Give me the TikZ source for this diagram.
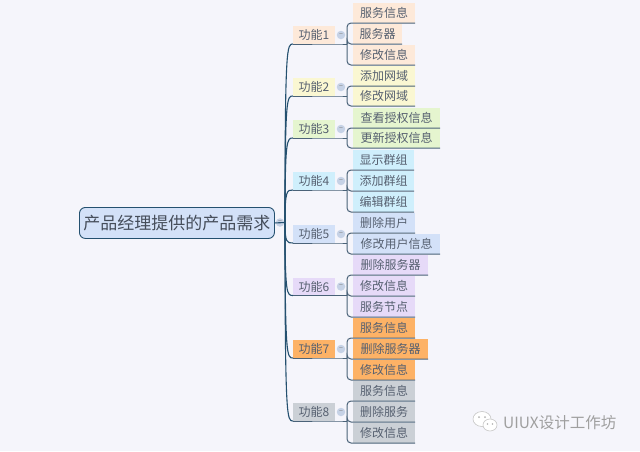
\documentclass[tikz,border=0pt]{standalone}
\usepackage{fontspec}
\setmainfont{Noto Sans CJK SC}
\newfontfamily\wmfont{Noto Sans CJK SC}
\usetikzlibrary{calc}
\definecolor{bgc}{HTML}{F5F5FB}
\definecolor{txt}{HTML}{566070}
\definecolor{trunkc}{HTML}{24506F}
\definecolor{branchc}{HTML}{4A6278}
\definecolor{ca}{HTML}{FDE9D9}
\definecolor{cb}{HTML}{FAF7D2}
\definecolor{cc}{HTML}{E5F5CF}
\definecolor{cd}{HTML}{CFEFFC}
\definecolor{ce}{HTML}{D3E1F8}
\definecolor{cf}{HTML}{E6DAF8}
\definecolor{cg}{HTML}{FDB266}
\definecolor{ch}{HTML}{CBD0D6}
\tikzset{
  base/.style={anchor=north west,inner sep=0pt,outer sep=0pt,text=txt,font=\fontsize{12}{14}\selectfont},
  leafbox/.style={base,minimum height=20pt},
  funcbox/.style={base,minimum width=42pt,minimum height=18pt},
  rootbox/.style={draw=trunkc,line width=0.9pt,rounded corners=6pt,fill=ce,anchor=north west,inner sep=0pt,minimum width=195pt,minimum height=31pt,text=txt!80!black,font=\fontsize{17}{20}\selectfont},
  toggle/.style={circle,fill=ce!85!gray,inner sep=0pt,minimum size=8.5pt,text=gray,font=\fontsize{7}{7}\selectfont},
  trunkline/.style={draw=trunkc,line width=1.1pt},
  branchline/.style={draw=branchc,line width=1pt,rounded corners=4pt},
  bub/.style={draw=gray!45,fill=white,line width=0.6pt}
}
\newcommand{\leafnode}[5]{\node[leafbox,fill=#2,minimum width=#4pt] (#1) at (353,#3) {\raisebox{-1pt}{#5}};}
\newcommand{\funcnode}[4]{%
  \node[funcbox,fill=#2] (#1) at (293,#3) {#4};
  \node[toggle] (#1t) at (341,#3+9) {−};
  \coordinate (#1b) at (347,#3+18);
  \draw[trunkline] (hub) .. controls (hub|-#1.south west) and ($(#1.south west)+(-6,0)$) .. (#1.south west);
  \draw[branchline] (#1.south west) -- (#1.south east) -- (#1b);}
\newcommand{\lk}[2]{\draw[branchline] (#1b) |- (#2.south east);}
\begin{document}
\begin{tikzpicture}[x=1pt,y=-1pt]
\useasboundingbox (0,0) rectangle (640,451);
\fill[bgc] (0,0) rectangle (640,451);
\node[rootbox] (root) at (79,207) {产品经理提供的产品需求};
\node[toggle] (roott) at (280,222.5) {−};
\coordinate (hub) at (285,222.5);
\draw[trunkline] (root.east) -- (hub);
% leaves
\leafnode{a1}{ca}{3}{62}{服务信息}
\leafnode{a2}{ca}{24}{49}{服务器}
\leafnode{a3}{ca}{45}{62}{修改信息}
\leafnode{b1}{cb}{66}{62}{添加网域}
\leafnode{b2}{cb}{86}{62}{修改网域}
\leafnode{c1}{cc}{108}{87}{查看授权信息}
\leafnode{c2}{cc}{128}{87}{更新授权信息}
\leafnode{d1}{cd}{150}{61}{显示群组}
\leafnode{d2}{cd}{171}{61}{添加群组}
\leafnode{d3}{cd}{192}{61}{编辑群组}
\leafnode{e1}{ce}{213}{62}{删除用户}
\leafnode{e2}{ce}{234}{87}{修改用户信息}
\leafnode{f1}{cf}{255}{75}{删除服务器}
\leafnode{f2}{cf}{276}{62}{修改信息}
\leafnode{f3}{cf}{297}{62}{服务节点}
\leafnode{g1}{cg}{318}{62}{服务信息}
\leafnode{g2}{cg}{339}{75}{删除服务器}
\leafnode{g3}{cg}{360}{62}{修改信息}
\leafnode{h1}{ch}{381}{62}{服务信息}
\leafnode{h2}{ch}{402}{62}{删除服务}
\leafnode{h3}{ch}{423}{62}{修改信息}
% functions
\funcnode{fa}{ca}{26}{功能1}
\funcnode{fb}{cb}{78}{功能2}
\funcnode{fc}{cc}{120}{功能3}
\funcnode{fd}{cd}{172}{功能4}
\funcnode{fe}{ce}{225}{功能5}
\funcnode{ff}{cf}{277.5}{功能6}
\funcnode{fg}{cg}{340}{功能7}
\funcnode{fh}{ch}{403}{功能8}
% connectors
\lk{fa}{a1}\lk{fa}{a2}\lk{fa}{a3}
\lk{fb}{b1}\lk{fb}{b2}
\lk{fc}{c1}\lk{fc}{c2}
\lk{fd}{d1}\lk{fd}{d2}\lk{fd}{d3}
\lk{fe}{e1}\lk{fe}{e2}
\lk{ff}{f1}\lk{ff}{f2}\lk{ff}{f3}
\lk{fg}{g1}\lk{fg}{g2}\lk{fg}{g3}
\lk{fh}{h1}\lk{fh}{h2}\lk{fh}{h3}
% watermark
\draw[bub] (482,419) ellipse (9pt and 7.5pt);
\draw[bub] (490,425) ellipse (7pt and 6pt);
\fill[gray!60] (479,417) circle (1pt) (485,417) circle (1pt) (487.5,424) circle (0.8pt) (492.5,424) circle (0.8pt);
\node[anchor=west,inner sep=0pt,text=gray!75,font=\wmfont\fontsize{15.5}{18}\selectfont] (wm) at (503,423) {UIUX设计工作坊};
\end{tikzpicture}
\end{document}
